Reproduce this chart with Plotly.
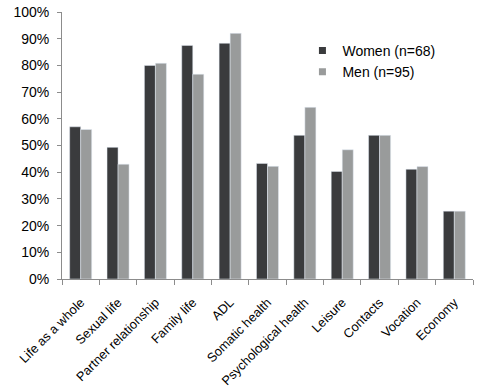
import plotly.graph_objects as go

categories = ["Life as a whole", "Sexual life", "Partner relationship", "Family life", "ADL",
              "Somatic health", "Psychological health", "Leisure", "Contacts", "Vocation", "Economy"]
women = [0.57, 0.493, 0.80, 0.875, 0.883, 0.433, 0.538, 0.403, 0.538, 0.411, 0.254]
men = [0.56, 0.43, 0.808, 0.767, 0.92, 0.422, 0.643, 0.484, 0.538, 0.421, 0.254]
y_ticks = [i / 10 for i in range(11)]

c_women = "#3a3b3d"
c_men = "#999b9b"

fig = go.Figure()
fig.add_trace(go.Bar(x=categories, y=women, marker_color=c_women, showlegend=False))
fig.add_trace(go.Bar(x=categories, y=men, marker_color=c_men, showlegend=False))
# legend entries with small square swatches
fig.add_trace(go.Scatter(x=[None], y=[None], mode="markers", name="Women (n=68)",
                         marker=dict(symbol="square", size=7, color=c_women)))
fig.add_trace(go.Scatter(x=[None], y=[None], mode="markers", name="Men (n=95)",
                         marker=dict(symbol="square", size=7, color=c_men)))

fig.update_layout(
    width=478, height=390,
    margin=dict(l=62, r=5, t=12, b=111, autoexpand=False),
    plot_bgcolor="white", paper_bgcolor="white",
    barmode="group", bargap=0.41, bargroupgap=0,
    font=dict(family="Liberation Sans, Arial, sans-serif", size=13, color="#000000"),
    legend=dict(x=0.585, y=0.914, xanchor="left", yanchor="top", bgcolor="rgba(0,0,0,0)",
                font=dict(size=14), itemwidth=30, tracegroupgap=4),
)
fig.update_xaxes(
    type="category", showline=True, linecolor="#8c8c8c", linewidth=1,
    ticks="outside", tickson="boundaries", ticklen=5, tickcolor="#8c8c8c",
    tickangle=-45, tickfont=dict(size=12.8), showgrid=False, automargin=False,
    ticklabelstandoff=10,
)
fig.update_yaxes(
    range=[0, 1], tickvals=y_ticks, tickformat=".0%",
    showline=True, linecolor="#8c8c8c", linewidth=1,
    ticks="outside", ticklen=4, tickcolor="#8c8c8c",
    showgrid=False, zeroline=False, tickfont=dict(size=14), automargin=False,
    ticklabelstandoff=5,
)

fig.write_html("out.html", config={"displayModeBar": False},
               post_script="document.body.style.margin='0';")
